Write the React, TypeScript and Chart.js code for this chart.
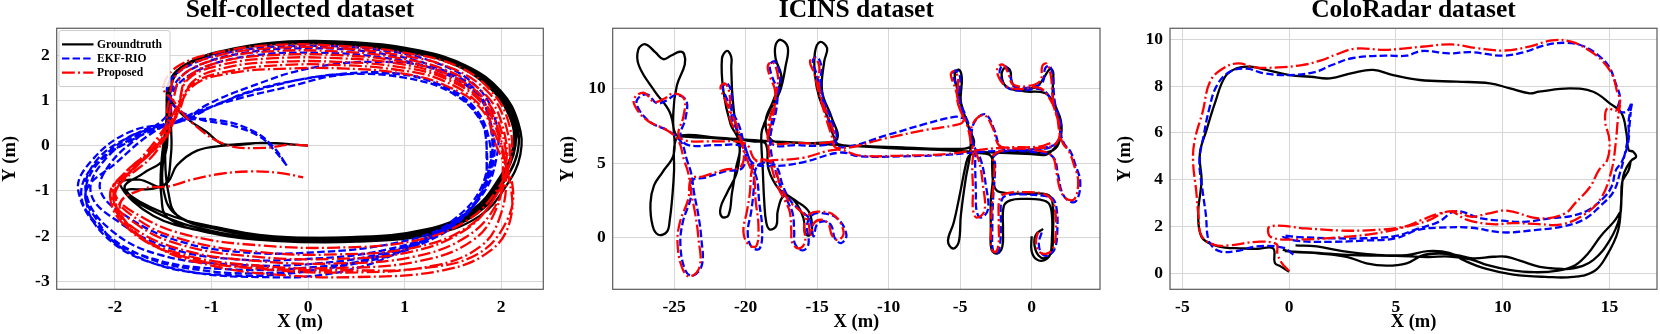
import React, { useEffect, useRef } from "react";
import { Chart, registerables } from "chart.js";
Chart.register(...registerables);

type Pt = [number, number] | null;

const SERIES_NAMES = ["Groundtruth", "EKF-RIO", "Proposed"];
const SERIES_COLORS = ["#000000", "#0000ff", "#ff0000"];
const TITLES = ["Self-collected dataset", "ICINS dataset", "ColoRadar dataset"];
const X_LABEL = "X (m)";
const Y_LABEL = "Y (m)";

const P1_X_TICKS = [-2, -1, 0, 1, 2];
const P1_Y_TICKS = [-3, -2, -1, 0, 1, 2];
const P2_X_TICKS = [-25, -20, -15, -10, -5, 0];
const P2_Y_TICKS = [0, 5, 10];
const P3_X_TICKS = [-5, 0, 5, 10, 15];
const P3_Y_TICKS = [0, 2, 4, 6, 8, 10];

// ---------- Self-collected dataset ----------
const P1_GT: Pt[] = [
  [0, 0], [-0.46, 0.06], [-0.87, 0.03], [-1.05, 0.3], [-1.29, 0.66], [-1.42, 1.0],
  [-1.45, 1.35], [-1.3, 1.75], [-0.9, 2.08], [-0.35, 2.26], [0.35, 2.25], [1.0, 2.12], [1.5, 1.85], [1.88, 1.35], [2.1, 0.7], [2.15, 0.0], [2.0, -0.75], [1.72, -1.45], [1.25, -1.88], [0.45, -2.05], [-0.35, -2.04], [-0.95, -1.84], [-1.35, -1.55], [-1.45, -1.0], [-1.48, -0.25], [-1.46, 0.55],
  [-1.44, 1.4], [-1.25, 1.8], [-0.85, 2.1], [-0.3, 2.28], [0.4, 2.27], [1.05, 2.12], [1.55, 1.82], [1.92, 1.3], [2.12, 0.65], [2.18, -0.05], [2.03, -0.8], [1.75, -1.5], [1.28, -1.92], [0.5, -2.1], [-0.3, -2.08], [-1.0, -1.88], [-1.55, -1.5], [-1.9, -0.95], [-1.7, -0.6], [-1.5, -0.3], [-1.45, 0.5],
  [-1.42, 1.4], [-1.2, 1.85], [-0.8, 2.12], [-0.25, 2.28], [0.45, 2.26], [1.1, 2.1], [1.6, 1.78], [1.95, 1.25], [2.15, 0.55], [2.17, -0.15], [2.0, -0.85], [1.7, -1.52], [1.2, -1.93], [0.4, -2.1], [-0.4, -2.07], [-1.05, -1.9], [-1.6, -1.55], [-1.95, -0.85], [-1.75, -0.75], [-1.5, -0.9], [-1.42, -0.2], [-1.42, 0.6],
  [-1.4, 1.45], [-1.18, 1.88], [-0.75, 2.15], [-0.2, 2.3], [0.5, 2.28], [1.15, 2.1], [1.65, 1.75], [2.0, 1.2], [2.18, 0.5], [2.2, -0.2], [2.05, -0.9], [1.78, -1.55], [1.3, -1.95], [0.5, -2.12], [-0.35, -2.1], [-1.0, -1.93], [-1.45, -1.6], [-1.52, -1.1], [-1.52, -0.4], [-1.47, 0.5],
  [-1.43, 1.38], [-1.22, 1.82], [-0.82, 2.1], [-0.28, 2.25], [0.38, 2.24], [1.02, 2.08], [1.52, 1.8], [1.9, 1.3], [2.1, 0.62], [2.12, -0.08], [1.97, -0.78], [1.68, -1.45], [1.2, -1.86], [0.42, -2.03], [-0.38, -2.02], [-0.98, -1.82], [-1.38, -1.5], [-1.5, -0.95], [-1.5, -0.3], [-1.45, 0.6],
  [-1.45, 1.35], [-1.28, 1.78], [-0.88, 2.08], [-0.32, 2.24], [0.35, 2.23], [0.98, 2.08], [1.48, 1.82], [1.86, 1.32], [2.08, 0.68], [2.13, -0.02], [1.98, -0.72], [1.7, -1.42], [1.22, -1.85], [0.45, -2.02], [-0.35, -2.0], [-0.95, -1.8], [-1.5, -1.48], [-1.88, -1.0], [-1.6, -0.95], [-1.45, -0.8],
  [-1.36, -0.44], [-1.15, -0.11], [-0.87, 0.0], [-0.46, 0.06], [0, 0],
];

const P1_EKF: Pt[] = [
  [-0.22, -0.44], [-0.35, -0.1], [-0.5, 0.2], [-0.8, 0.45], [-1.15, 0.6], [-1.4, 0.9],
  [-1.45, 1.35], [-1.2, 1.8], [-0.7, 2.1], [0.0, 2.2], [0.7, 2.12], [1.3, 1.85], [1.75, 1.3], [1.95, 0.5], [1.95, -0.3], [1.8, -1.1], [1.45, -1.75], [0.9, -2.15], [0.1, -2.35], [-0.7, -2.35], [-1.35, -2.1], [-1.85, -1.6], [-2.15, -1.0], [-2.05, -0.4], [-1.75, 0.2], [-1.45, 0.7],
  [-1.4, 1.3], [-1.15, 1.75], [-0.65, 2.05], [0.0, 2.15], [0.7, 2.05], [1.3, 1.75], [1.75, 1.2], [1.9, 0.4], [1.9, -0.4], [1.75, -1.2], [1.4, -1.85], [0.8, -2.3], [0.0, -2.5], [-0.8, -2.5], [-1.45, -2.25], [-1.95, -1.7], [-2.25, -1.05], [-2.1, -0.3], [-1.7, 0.3], [-1.35, 0.55],
  [-1.0, 0.85], [-0.6, 1.2], [-0.1, 1.45], [0.4, 1.58], [1.0, 1.5], [1.5, 1.15], [1.8, 0.5], [1.85, -0.2], [1.8, -1.0], [1.5, -1.75], [0.9, -2.3], [0.1, -2.6], [-0.8, -2.62], [-1.55, -2.4], [-2.05, -1.85], [-2.3, -1.05], [-2.2, -0.35], [-1.85, 0.2], [-1.45, 0.55],
  [-1.4, 1.2], [-1.1, 1.7], [-0.6, 1.98], [0.05, 2.05], [0.75, 1.95], [1.35, 1.65], [1.78, 1.05], [1.9, 0.3], [1.88, -0.5], [1.72, -1.3], [1.35, -1.95], [0.75, -2.45], [-0.05, -2.7], [-0.9, -2.72], [-1.6, -2.5], [-2.1, -1.95], [-2.38, -1.0], [-2.25, -0.35], [-1.85, 0.3], [-1.3, 0.55],
  [-0.9, 0.95], [-0.4, 1.3], [0.2, 1.55], [0.8, 1.6], [1.3, 1.4], [1.7, 0.9], [1.88, 0.1], [1.85, -0.7], [1.65, -1.5], [1.2, -2.15], [0.5, -2.6], [-0.3, -2.8], [-1.1, -2.75], [-1.75, -2.4], [-2.2, -1.7], [-2.35, -1.0], [-2.15, -0.3], [-1.7, 0.35], [-1.3, 0.55],
  [-1.05, 0.9], [-0.6, 1.3], [0.0, 1.7], [0.7, 1.85], [1.3, 1.7], [1.72, 1.2], [1.9, 0.45], [1.92, -0.35], [1.75, -1.2], [1.35, -1.9], [0.7, -2.45], [-0.1, -2.8], [-0.9, -2.85], [-1.6, -2.6], [-2.1, -2.0], [-2.3, -1.2], [-2.2, -0.45], [-1.8, 0.15], [-1.4, 0.5],
  [-1.15, 0.75], [-0.7, 1.05], [-0.2, 1.3], [0.3, 1.55], [0.9, 1.6], [1.4, 1.3], [1.75, 0.7], [1.85, 0.0], [1.8, -0.9], [1.5, -1.65], [1.0, -2.3], [0.3, -2.8], [-0.5, -2.9], [-1.3, -2.75], [-1.9, -2.3], [-2.2, -1.6], [-2.3, -1.0], [-2.0, -0.4], [-1.6, 0.3], [-1.3, 0.55],
  [-0.9, 0.55], [-0.55, 0.3], [-0.35, -0.05], [-0.22, -0.44],
];

const P1_PROP: Pt[] = [
  [0, 0], [-0.2, 0.02], [-0.45, -0.05], [-0.85, 0.02], [-1.2, 0.5], [-1.4, 1.0], [-1.5, 1.3],
  [-1.35, 1.75], [-0.95, 2.05], [-0.35, 2.22], [0.35, 2.2], [1.0, 2.05], [1.55, 1.75], [1.9, 1.2], [2.08, 0.5], [2.1, -0.3], [1.95, -1.0], [1.65, -1.65], [1.1, -2.1], [0.3, -2.25], [-0.5, -2.2], [-1.2, -2.0], [-1.7, -1.6], [-2.0, -1.05], [-1.8, -0.5], [-1.5, 0.2], [-1.45, 0.9],
  [-1.35, 1.6], [-1.0, 1.95], [-0.4, 2.15], [0.3, 2.15], [0.95, 2.0], [1.5, 1.7], [1.88, 1.15], [2.05, 0.45], [2.08, -0.4], [1.95, -1.1], [1.65, -1.8], [1.1, -2.25], [0.3, -2.4], [-0.5, -2.35], [-1.25, -2.1], [-1.75, -1.65], [-2.02, -1.0], [-1.75, -0.4], [-1.5, 0.3], [-1.4, 1.0],
  [-1.3, 1.55], [-0.95, 1.9], [-0.4, 2.08], [0.3, 2.08], [0.9, 1.95], [1.45, 1.65], [1.85, 1.1], [2.02, 0.4], [2.05, -0.45], [1.92, -1.2], [1.6, -1.9], [1.05, -2.35], [0.25, -2.5], [-0.55, -2.45], [-1.3, -2.2], [-1.8, -1.7], [-2.05, -1.05], [-1.8, -0.45], [-1.55, 0.2], [-1.35, 0.9],
  [-1.25, 1.5], [-0.9, 1.85], [-0.35, 2.0], [0.3, 2.0], [0.9, 1.88], [1.42, 1.6], [1.82, 1.05], [2.0, 0.35], [2.05, -0.5], [1.95, -1.3], [1.65, -2.0], [1.1, -2.45], [0.3, -2.6], [-0.5, -2.55], [-1.3, -2.3], [-1.85, -1.75], [-2.05, -1.1], [-1.85, -0.5], [-1.5, 0.1], [-1.35, 0.8],
  [-1.25, 1.45], [-0.9, 1.78], [-0.35, 1.93], [0.3, 1.93], [0.9, 1.82], [1.4, 1.55], [1.8, 1.0], [1.98, 0.3], [2.02, -0.55], [1.95, -1.4], [1.7, -2.1], [1.15, -2.55], [0.3, -2.7], [-0.5, -2.65], [-1.3, -2.4], [-1.85, -1.85], [-2.05, -1.15], [-1.9, -0.6], [-1.55, 0.0], [-1.35, 0.7],
  [-1.2, 1.4], [-0.85, 1.72], [-0.3, 1.85], [0.3, 1.85], [0.9, 1.75], [1.4, 1.5], [1.8, 0.95], [1.97, 0.25], [2.05, -0.6], [2.0, -1.5], [1.8, -2.2], [1.3, -2.65], [0.4, -2.8], [-0.5, -2.72], [-1.2, -2.5], [-1.8, -1.95], [-2.0, -1.2], [-1.9, -0.7], [-1.6, -0.1], [-1.4, 0.6],
  [-1.2, 1.35], [-0.8, 1.65], [-0.25, 1.78], [0.3, 1.78], [0.9, 1.68], [1.38, 1.45], [1.78, 0.9], [1.95, 0.2], [2.08, -0.7], [2.1, -1.6], [1.9, -2.3], [1.4, -2.75], [0.5, -2.9], [-0.3, -2.85], [-1.0, -2.65], [-1.6, -2.2], [-1.95, -1.5], [-2.0, -1.0], [-1.6, -0.2], [-1.4, 0.5],
  [-1.2, 1.3], [-0.8, 1.6], [-0.2, 1.7], [0.4, 1.7], [0.95, 1.6], [1.4, 1.35], [1.8, 0.8], [1.95, 0.0], [2.12, -0.9], [2.05, -1.7], [1.75, -2.4], [1.2, -2.7], [0.4, -2.75], [-0.5, -2.7], [-1.2, -2.5], [-1.75, -2.0], [-1.95, -1.3], [-1.7, -0.95], [-1.45, -0.9],
  [-1.2, -0.75], [-0.9, -0.62], [-0.6, -0.57], [-0.3, -0.6], [-0.05, -0.7],
];

// ---------- ICINS dataset ----------
const P2_GT: Pt[] = [
  [0.0, 0.1], [0.0, -0.9], [0.35, -1.45], [0.9, -1.5], [1.3, -1.1], [1.42, 0.0], [1.42, 1.5], [1.2, 2.3], [0.6, 2.55], [-0.5, 2.6], [-1.5, 2.5], [-1.95, 2.1], [-2.0, 0.5], [-2.05, -0.6], [-2.4, -1.05], [-2.8, -0.8], [-2.85, 0.5], [-2.85, 2.5], [-2.72, 3.8], [-2.7, 5.0], [-2.95, 5.55],
  [-4.0, 5.65], [-4.4, 5.45], [-4.6, 4.9], [-5.0, 3.0], [-5.45, 1.0], [-5.85, -0.2], [-5.5, -0.72], [-5.1, -0.3], [-4.95, 1.5], [-4.6, 4.0], [-4.3, 5.6],
  [-4.3, 7.0], [-4.75, 8.4], [-5.15, 9.8], [-5.38, 10.9], [-5.1, 11.25], [-4.88, 10.7], [-4.95, 9.0], [-4.45, 7.5], [-4.1, 6.2],
  [-6.0, 5.95], [-9.0, 6.05], [-12.0, 6.15], [-13.5, 6.25],
  [-13.85, 6.8], [-14.2, 7.9], [-14.85, 9.4], [-15.15, 10.9], [-15.15, 12.4], [-14.8, 13.1], [-14.3, 12.7], [-14.5, 11.8], [-14.65, 9.8], [-14.0, 8.1], [-13.6, 6.6],
  [-15.0, 6.35], [-17.0, 6.4], [-18.2, 6.55],
  [-18.6, 7.8], [-18.1, 9.1], [-17.5, 10.7], [-17.9, 12.0], [-17.9, 12.9], [-17.55, 13.25], [-17.05, 12.75], [-17.2, 11.5], [-17.6, 9.8], [-18.3, 8.5], [-18.85, 7.2], [-18.9, 6.4],
  [-18.8, 4.6], [-18.7, 2.5], [-18.55, 1.0], [-18.3, 0.55], [-17.85, 0.8], [-17.75, 1.8], [-17.3, 2.8], [-16.3, 2.35], [-15.55, 1.7], [-15.35, 0.6], [-15.55, 0.15], [-15.85, 0.35], [-15.95, 1.3], [-16.6, 2.5], [-17.7, 3.3], [-18.4, 4.6], [-18.6, 6.3],
  [-19.5, 6.45], [-20.3, 6.6], [-20.6, 7.1], [-20.9, 9.3], [-21.0, 11.4], [-21.0, 12.1], [-21.3, 12.5], [-21.65, 12.0], [-21.55, 9.8], [-21.05, 7.6], [-20.6, 6.8], [-20.4, 6.2],
  [-20.6, 4.4], [-21.3, 3.0], [-21.75, 2.0], [-21.65, 1.4], [-21.2, 1.5], [-20.95, 3.0], [-20.7, 4.5], [-20.5, 6.3],
  [-22.0, 6.65], [-24.0, 6.75], [-24.9, 6.95],
  [-25.05, 8.4], [-24.8, 10.2], [-24.25, 11.6], [-24.3, 12.3], [-24.6, 12.45], [-25.2, 12.2], [-25.75, 11.95], [-26.3, 12.4], [-27.0, 12.95], [-27.5, 12.6], [-27.45, 11.5], [-26.35, 9.8], [-25.3, 8.4], [-25.0, 6.9],
  [-25.05, 5.5], [-25.8, 4.4], [-26.4, 3.5], [-26.65, 2.3], [-26.5, 0.8], [-26.1, 0.2], [-25.5, 0.4], [-25.3, 1.2], [-25.1, 3.0], [-25.0, 4.5], [-24.95, 6.3],
  [-24.5, 6.85], [-22.0, 6.7], [-19.0, 6.5], [-16.0, 6.35], [-13.5, 6.2], [-10.0, 6.0], [-7.0, 5.9], [-5.0, 5.8], [-2.5, 5.7], [0.0, 5.6], [1.0, 5.55], [1.5, 5.9], [2.0, 6.6], [2.05, 7.8], [1.5, 9.3], [1.5, 10.5], [1.5, 11.1], [1.28, 11.3], [0.85, 10.7], [0.35, 10.1], [-0.6, 9.95], [-1.05, 10.0], [-1.4, 10.45], [-1.5, 11.2], [-1.85, 11.4], [-2.1, 10.9], [-1.75, 10.1], [-0.5, 9.8], [0.9, 9.7], [1.4, 9.2], [1.9, 7.9], [1.95, 6.5], [1.5, 5.85], [0.5, 5.7], [-1.5, 5.75], [-2.6, 5.6], [-2.75, 4.5], [-2.6, 3.4], [-2.2, 3.05], [-0.6, 2.95], [1.05, 2.9], [1.45, 2.4], [1.5, 0.5], [1.4, -0.9], [1.0, -1.35], [0.5, -1.2], [0.2, -0.5], [0.3, 0.2], [0.8, 0.6],
];

const P2_EKF: Pt[] = [
  [0.7, 0.35], [0.5, -0.4], [0.75, -1.1], [1.25, -1.15], [1.65, -0.65], [1.8, 0.6], [1.75, 1.9], [1.5, 2.6], [0.9, 2.8], [-0.5, 2.9], [-1.7, 2.85], [-2.1, 2.5], [-2.15, 1.0], [-2.2, -0.4], [-2.4, -1.05], [-2.7, -0.85], [-2.75, 0.5], [-2.7, 2.5], [-2.6, 3.8], [-2.55, 4.9], [-2.6, 5.5],
  [-1.5, 5.85], [0.0, 5.9], [1.3, 6.05], [1.9, 6.6], [2.05, 7.6], [1.7, 8.7], [1.55, 9.7], [1.5, 10.8], [1.25, 11.5], [0.95, 11.35], [0.75, 10.4], [-0.2, 10.05], [-1.2, 10.1], [-1.5, 10.8], [-1.8, 11.45], [-2.15, 11.4], [-2.2, 10.8], [-1.7, 10.05], [-0.7, 9.85], [0.6, 9.95], [1.35, 9.3], [1.85, 8.1], [2.05, 6.9], [2.3, 6.25], [2.7, 5.8], [3.05, 4.9], [3.4, 3.7], [3.1, 2.45], [2.55, 2.5], [2.1, 3.1], [1.85, 4.2], [1.45, 5.45],
  [0.0, 5.75], [-1.5, 5.85], [-2.2, 6.1], [-2.6, 7.2], [-3.2, 8.25], [-3.9, 7.9], [-4.2, 6.9], [-3.95, 5.8], [-3.95, 4.8], [-3.9, 3.2], [-3.85, 1.8], [-3.55, 1.35], [-3.05, 1.9], [-3.2, 3.5], [-3.55, 5.2], [-4.1, 6.3], [-4.4, 7.6], [-4.9, 8.7], [-5.2, 10.0], [-5.5, 10.95], [-5.3, 11.2], [-5.0, 10.75], [-5.05, 9.2], [-4.6, 8.0], [-5.3, 8.1], [-7.5, 7.6], [-10.0, 6.9], [-13.4, 6.05],
  [-13.8, 6.9], [-14.35, 8.4], [-14.75, 9.8], [-15.05, 11.0], [-15.3, 11.85], [-15.0, 12.1], [-14.7, 11.5], [-14.75, 10.5], [-14.55, 9.3], [-14.05, 8.0], [-13.65, 6.6], [-14.5, 6.2], [-16.5, 6.2], [-18.1, 6.25],
  [-18.2, 7.5], [-17.95, 8.7], [-17.65, 10.0], [-17.6, 10.9], [-17.95, 11.8], [-18.3, 11.55], [-18.15, 10.8], [-17.8, 9.9], [-17.85, 8.6], [-18.25, 6.9], [-18.25, 6.0],
  [-18.0, 4.8], [-17.5, 3.3], [-17.0, 2.3], [-16.7, 1.6], [-16.6, 0.4], [-16.55, -0.4], [-16.0, -0.85], [-15.6, -0.4], [-15.7, 0.9], [-15.3, 1.55], [-14.7, 1.65], [-13.6, 1.3], [-12.95, 0.2], [-13.3, -0.35], [-13.75, -0.05], [-14.0, 0.8], [-14.45, 1.1], [-15.0, 0.9], [-15.25, 0.1], [-15.5, 1.2], [-16.1, 1.8], [-16.8, 2.4], [-17.4, 3.5], [-17.8, 4.7], [-18.3, 5.0], [-19.0, 4.95],
  [-19.35, 4.4], [-19.45, 3.0], [-19.6, 1.8], [-19.85, 0.3], [-19.55, -0.65], [-19.0, -0.7], [-18.85, 0.7], [-19.05, 2.4], [-19.2, 3.9], [-19.6, 4.9], [-20.1, 6.3],
  [-20.45, 7.5], [-20.95, 8.5], [-21.35, 9.4], [-21.6, 10.1], [-21.25, 10.3], [-20.95, 9.5], [-20.95, 8.0], [-20.45, 7.0], [-20.05, 6.2], [-20.2, 4.7], [-21.4, 4.45], [-22.9, 4.0], [-23.7, 3.85],
  [-23.85, 2.6], [-24.4, 1.0], [-24.55, -0.6], [-24.2, -2.2], [-23.7, -2.55], [-23.05, -1.8], [-23.1, 0.0], [-23.3, 1.5], [-23.6, 3.0], [-23.8, 4.3], [-24.1, 5.2], [-24.5, 6.4],
  [-25.3, 7.1], [-26.6, 7.7], [-27.4, 8.5], [-27.6, 9.2], [-26.9, 9.6], [-26.2, 9.0], [-25.5, 9.2], [-24.9, 9.55], [-24.15, 9.2], [-24.2, 8.0], [-24.55, 6.8], [-24.0, 6.2], [-22.0, 6.2], [-20.2, 6.1], [-19.5, 5.0], [-18.0, 4.8], [-16.0, 5.05], [-13.4, 5.7], [-12.0, 5.45], [-9.0, 5.45], [-6.0, 5.55], [-3.5, 5.75], [-1.5, 5.85], [0.5, 5.95], [1.6, 6.2],
];

const P2_PROP: Pt[] = [
  [0.45, 0.4], [0.3, -0.3], [0.55, -0.95], [1.1, -1.05], [1.55, -0.6], [1.7, 0.6], [1.65, 1.8], [1.4, 2.55], [0.8, 2.95], [-0.5, 3.05], [-1.6, 3.0], [-2.2, 2.7], [-2.3, 1.0], [-2.3, -0.3], [-2.5, -0.95], [-2.8, -0.75], [-2.85, 0.5], [-2.75, 2.5], [-2.65, 3.8], [-2.6, 4.9], [-2.7, 5.5],
  [-1.5, 5.95], [0.0, 6.0], [1.3, 6.1], [1.85, 6.5], [1.95, 7.5], [1.6, 8.6], [1.45, 9.6], [1.35, 10.8], [1.05, 11.65], [0.75, 11.5], [0.6, 10.5], [-0.3, 10.15], [-1.3, 10.25], [-1.6, 10.9], [-1.95, 11.55], [-2.35, 11.45], [-2.35, 10.85], [-1.8, 10.15], [-0.8, 9.95], [0.5, 10.05], [1.2, 9.4], [1.75, 8.2], [1.95, 7.0], [2.2, 6.3], [2.6, 5.8], [2.95, 4.9], [3.25, 3.8], [3.0, 2.6], [2.45, 2.6], [2.0, 3.2], [1.75, 4.3], [1.4, 5.5],
  [0.0, 5.9], [-1.5, 6.0], [-2.3, 6.2], [-2.7, 7.3], [-3.3, 8.2], [-4.0, 7.8], [-4.3, 6.8], [-4.1, 5.8], [-4.15, 4.8], [-4.1, 3.2], [-4.1, 1.9], [-3.85, 1.35], [-3.3, 1.8], [-3.4, 3.5], [-3.7, 5.2], [-4.2, 6.3], [-4.5, 7.5], [-5.0, 8.6], [-5.3, 9.9], [-5.65, 10.9], [-5.45, 11.15], [-5.15, 10.7], [-5.2, 9.2], [-4.8, 7.8], [-5.3, 7.55], [-7.5, 7.2], [-10.0, 6.7], [-13.6, 6.0],
  [-14.0, 6.9], [-14.5, 8.4], [-14.9, 9.8], [-15.2, 11.0], [-15.5, 11.8], [-15.2, 12.05], [-14.85, 11.5], [-14.9, 10.5], [-14.7, 9.3], [-14.2, 8.0], [-13.8, 6.6], [-14.5, 6.35], [-16.5, 6.35], [-18.3, 6.4],
  [-18.4, 7.5], [-18.1, 8.7], [-17.8, 10.0], [-17.75, 10.9], [-18.1, 11.75], [-18.45, 11.5], [-18.3, 10.8], [-17.95, 9.9], [-18.0, 8.6], [-18.4, 6.9], [-18.4, 6.0],
  [-18.2, 4.8], [-17.7, 3.3], [-17.2, 2.4], [-16.9, 1.7], [-16.8, 0.4], [-16.75, -0.3], [-16.3, -0.72], [-15.85, -0.3], [-15.9, 0.9], [-15.5, 1.6], [-14.9, 1.75], [-13.8, 1.5], [-13.15, 0.4], [-13.5, -0.15], [-13.95, 0.15], [-14.2, 0.9], [-14.6, 1.2], [-15.2, 1.0], [-15.45, 0.2], [-15.7, 1.3], [-16.3, 1.9], [-17.0, 2.5], [-17.6, 3.6], [-18.0, 4.8], [-18.5, 5.2], [-19.2, 5.15],
  [-19.55, 4.6], [-19.7, 3.0], [-19.9, 1.8], [-20.15, 0.4], [-19.8, -0.45], [-19.25, -0.55], [-19.1, 0.8], [-19.3, 2.5], [-19.4, 4.0], [-19.8, 5.0], [-20.3, 6.4],
  [-20.6, 7.5], [-21.1, 8.5], [-21.5, 9.4], [-21.75, 10.1], [-21.4, 10.3], [-21.1, 9.5], [-21.1, 8.0], [-20.6, 7.0], [-20.2, 6.3], [-20.3, 4.8], [-21.5, 4.55], [-23.0, 4.1], [-23.8, 3.95],
  [-24.0, 2.6], [-24.6, 1.0], [-24.75, -0.5], [-24.4, -2.1], [-23.9, -2.6], [-23.2, -1.9], [-23.3, 0.0], [-23.5, 1.5], [-23.8, 3.0], [-24.0, 4.3], [-24.3, 5.2], [-24.7, 6.5],
  [-25.5, 7.2], [-26.8, 7.8], [-27.6, 8.6], [-27.8, 9.3], [-27.1, 9.7], [-26.4, 9.1], [-25.7, 9.3], [-25.05, 9.65], [-24.3, 9.3], [-24.35, 8.1], [-24.7, 6.9], [-24.2, 6.5], [-22.0, 6.45], [-20.0, 6.3], [-19.3, 5.2], [-18.0, 5.2], [-16.0, 5.35], [-13.6, 5.9], [-12.0, 5.5], [-9.0, 5.5], [-6.0, 5.6], [-3.5, 5.9], [-1.5, 6.05], [0.5, 6.1], [1.5, 6.4],
];

// ---------- ColoRadar dataset ----------
const P3_GT: Pt[] = [
  [0.0, 0.07], [-0.4, 0.3], [-0.67, 0.45], [-0.75, 1.07], [-1.5, 1.05], [-2.31, 1.07], [-3.0, 1.1], [-3.5, 1.2], [-4.1, 1.56], [-4.26, 2.56], [-4.15, 3.5], [-4.1, 4.0], [-4.18, 5.13], [-3.87, 6.12], [-3.48, 7.26], [-3.0, 8.4], [-2.46, 8.76], [-1.84, 8.83], [-1.06, 8.69], [0.03, 8.47], [1.0, 8.4], [1.91, 8.33], [3.0, 8.57], [3.93, 8.69], [4.87, 8.47], [6.12, 8.26], [7.84, 8.19], [9.4, 8.12], [10.34, 7.9], [11.27, 7.69], [11.7, 7.76], [13.15, 7.9], [14.24, 7.76], [15.02, 7.26], [15.57, 6.84], [15.8, 5.98], [15.9, 5.27], [16.11, 5.2], [16.25, 4.98], [16.05, 4.84], [15.85, 4.6], [15.64, 4.13], [15.57, 3.27], [15.49, 2.42], [15.02, 1.42], [14.24, 0.57], [13.3, 0.21], [12.6, 0.2], [11.74, 0.28], [10.96, 0.5], [10.18, 0.71], [9.56, 0.71], [8.62, 0.64], [7.84, 0.78], [7.06, 0.85], [6.28, 0.78], [5.5, 0.43], [4.56, 0.33], [3.62, 0.43], [2.69, 0.71], [1.44, 0.85], [0.19, 0.92], [-0.3, 1.0],
  null,
  [0.3, 1.2], [1.3, 1.15], [2.5, 0.95], [4.0, 0.8], [5.5, 0.78], [6.5, 0.95], [7.5, 0.88], [8.2, 0.55], [9.2, 0.2], [10.5, -0.05], [12.0, -0.15], [13.3, -0.15], [14.3, 0.1], [14.9, 0.8], [15.4, 1.8], [15.55, 3.0], [15.6, 3.9], [15.9, 4.4], [16.0, 4.8],
  null,
  [-0.2, 0.95], [1.0, 0.9], [3.0, 0.78], [5.0, 0.75], [6.5, 0.7], [7.5, 0.72], [8.5, 0.6], [9.3, 0.35], [10.3, 0.15], [11.5, 0.05], [12.6, 0.12], [13.4, 0.35], [14.0, 0.85], [14.6, 1.6], [15.2, 2.2], [15.5, 2.6],
];

const P3_EKF: Pt[] = [
  [0.2, 0.8], [-0.3, 1.1], [-1.5, 1.15], [-2.5, 0.95], [-3.2, 0.93], [-3.6, 1.15], [-3.8, 1.5], [-3.9, 2.5], [-4.05, 3.5], [-4.2, 4.8], [-4.0, 5.9], [-3.75, 7.0], [-3.4, 8.0], [-2.8, 8.6], [-2.0, 8.75], [-1.2, 8.55], [0.0, 8.47], [1.2, 8.6], [2.0, 8.9], [3.0, 9.2], [4.5, 9.3], [5.5, 9.3], [6.2, 9.5], [7.5, 9.4], [8.5, 9.45], [10.0, 9.3], [11.0, 9.45], [12.0, 9.75], [13.0, 9.85], [13.8, 9.7], [14.5, 9.3], [15.0, 8.8], [15.3, 8.1], [15.5, 7.5], [15.4, 7.0], [15.8, 6.9], [16.05, 7.3], [15.9, 6.5], [15.9, 5.7], [15.6, 4.8], [15.3, 4.4], [15.1, 3.7], [14.7, 3.2], [14.0, 2.7], [13.2, 2.45], [12.2, 2.35], [11.0, 2.2], [10.0, 2.25], [9.0, 2.35], [7.8, 2.65], [7.0, 2.2], [6.0, 1.9], [5.0, 1.6], [3.5, 1.5], [2.0, 1.5], [0.5, 1.55], [-0.3, 1.6], [0.3, 1.4], [2.0, 1.35], [3.5, 1.4], [5.0, 1.5], [6.0, 1.85], [7.0, 1.95], [8.5, 1.95], [10.0, 1.75], [11.5, 1.85], [12.8, 2.0], [13.8, 2.3], [14.6, 2.9], [15.2, 3.5], [15.5, 4.3], [15.7, 5.0], [15.9, 6.0], [16.0, 6.9],
];

const P3_PROP: Pt[] = [
  [0.0, 0.1], [-0.35, 0.45], [-0.55, 0.85], [-0.6, 1.25], [-1.5, 1.35], [-2.8, 1.2], [-3.5, 1.22], [-4.1, 1.6], [-4.25, 2.5], [-4.35, 3.5], [-4.5, 4.8], [-4.42, 5.7], [-4.05, 6.9], [-3.7, 8.2], [-3.1, 8.75], [-2.4, 8.97], [-1.6, 8.8], [-0.5, 8.8], [0.6, 8.9], [1.5, 9.1], [2.2, 9.35], [3.1, 9.6], [4.5, 9.55], [6.2, 9.68], [7.6, 9.78], [8.8, 9.62], [10.1, 9.52], [11.3, 9.7], [12.3, 9.95], [13.2, 9.9], [14.0, 9.55], [14.7, 9.05], [15.15, 8.45], [15.35, 7.8], [15.5, 7.35], [15.3, 6.95], [14.9, 7.05], [14.8, 6.5], [15.0, 5.7], [14.9, 4.85], [14.5, 4.4], [14.1, 3.7], [13.4, 3.0], [12.9, 2.55], [11.7, 2.35], [10.2, 2.68], [9.3, 2.55], [8.5, 2.42], [7.8, 2.65], [7.0, 2.55], [6.2, 2.28], [5.4, 2.0], [3.9, 1.85], [2.4, 1.83], [0.8, 1.92], [-0.9, 2.0], [-0.85, 1.55], [0.5, 1.45], [2.5, 1.55], [4.0, 1.7], [5.3, 1.95], [6.5, 2.25], [7.5, 2.65], [8.3, 2.3], [9.5, 2.1], [10.5, 2.15], [11.7, 2.1], [12.8, 2.1], [13.8, 2.5], [14.6, 3.2], [15.1, 4.4], [15.3, 5.6], [15.4, 6.6], [15.5, 7.2],
];

const FONT = "'Liberation Serif', 'Times New Roman', Times, serif";

type PanelCfg = {
  left: number;
  width: number;
  yAxisWidth: number;
  padRight: number;
  title: string;
  xMin: number; xMax: number; yMin: number; yMax: number;
  xTicks: number[]; yTicks: number[];
  series: Pt[][];
  legend: boolean;
};

const PANELS: PanelCfg[] = [
  { left: -1, width: 551, yAxisWidth: 57.7, padRight: 6.7, title: TITLES[0], xMin: -2.604, xMax: 2.438, yMin: -3.17, yMax: 2.59, xTicks: P1_X_TICKS, yTicks: P1_Y_TICKS, series: [P1_GT, P1_EKF, P1_PROP], legend: true },
  { left: 557, width: 548, yAxisWidth: 55.7, padRight: 5, title: TITLES[1], xMin: -29.29, xMax: 4.78, yMin: -3.45, yMax: 14.02, xTicks: P2_X_TICKS, yTicks: P2_Y_TICKS, series: [P2_GT, P2_EKF, P2_PROP], legend: false },
  { left: 1114, width: 546, yAxisWidth: 56, padRight: 3, title: TITLES[2], xMin: -5.58, xMax: 17.23, yMin: -0.68, yMax: 10.47, xTicks: P3_X_TICKS, yTicks: P3_Y_TICKS, series: [P3_GT, P3_EKF, P3_PROP], legend: false },
];

const DASHES: number[][] = [[], [7.4, 3.2], [12.8, 3.2, 2, 3.2]];

const toXY = (arr: Pt[]) => arr.map((p) => (p ? { x: p[0], y: p[1] } : { x: null, y: null }));

const framePlugin = {
  id: "frameBox",
  afterDatasetsDraw(chart: any) {
    const { ctx, chartArea: a } = chart;
    ctx.save();
    ctx.strokeStyle = "#5a5a5a";
    ctx.lineWidth = 1.2;
    ctx.strokeRect(a.left, a.top, a.right - a.left, a.bottom - a.top);
    ctx.restore();
  },
};

const legendPlugin = {
  id: "boxLegend",
  afterDraw(chart: any) {
    const opts = chart.options.plugins.boxLegend;
    if (!opts || !opts.show) return;
    const { ctx, chartArea: a } = chart;
    const bx = a.left + 1.8, by = a.top + 1.8, bw = 111, bh = 56;
    ctx.save();
    ctx.fillStyle = "rgba(255,255,255,0.85)";
    ctx.strokeStyle = "#cccccc";
    ctx.lineWidth = 1;
    ctx.beginPath();
    ctx.roundRect(bx + 0.5, by + 0.5, bw, bh, 2);
    ctx.fill();
    ctx.stroke();
    ctx.font = `bold 11.6px ${FONT}`;
    ctx.textBaseline = "middle";
    ctx.fillStyle = "#000";
    for (let i = 0; i < 3; i++) {
      const cy = by + 14.3 + i * 14.1;
      ctx.strokeStyle = SERIES_COLORS[i];
      ctx.lineWidth = 2.2;
      ctx.setLineDash(DASHES[i]);
      ctx.beginPath();
      ctx.moveTo(bx + 3.5, cy);
      ctx.lineTo(bx + 35, cy);
      ctx.stroke();
      ctx.setLineDash([]);
      ctx.fillText(SERIES_NAMES[i], bx + 38.5, cy + 0.5);
    }
    ctx.restore();
  },
};

function Panel({ cfg }: { cfg: PanelCfg }) {
  const ref = useRef<HTMLCanvasElement | null>(null);
  useEffect(() => {
    if (!ref.current) return;
    const tickFont = { family: FONT, size: 17.5, weight: "bold" as const };
    const titleFont = { family: FONT, size: 18.5, weight: "bold" as const };
    const gridCfg = { color: "#d6d6d6", lineWidth: 1, drawTicks: false };
    const order = [2, 1, 0];
    const chart = new Chart(ref.current, {
      type: "scatter",
      data: {
        datasets: cfg.series.map((s, i) => ({
          label: SERIES_NAMES[i],
          data: toXY(s) as any,
          showLine: true,
          borderColor: SERIES_COLORS[i],
          backgroundColor: SERIES_COLORS[i],
          borderWidth: 2.3,
          borderDash: DASHES[i],
          pointRadius: 0,
          pointHoverRadius: 0,
          tension: 0.4,
          fill: false,
          spanGaps: false,
          order: order[i],
        })),
      },
      options: {
        animation: false,
        responsive: false,
        devicePixelRatio: 1,
        events: [],
        layout: { padding: { left: 0, right: cfg.padRight, top: 0, bottom: 0 } },
        plugins: {
          legend: { display: false },
          tooltip: { enabled: false },
          title: {
            display: true,
            text: cfg.title,
            fullSize: false,
            color: "#000",
            font: { family: FONT, size: 25.5, weight: "bold", lineHeight: 0.85 },
            padding: { top: 0, bottom: 6.6 },
          },
          boxLegend: { show: cfg.legend },
        } as any,
        scales: {
          x: {
            type: "linear",
            min: cfg.xMin,
            max: cfg.xMax,
            afterBuildTicks: (s: any) => { s.ticks = cfg.xTicks.map((v) => ({ value: v })); },
            afterFit: (s: any) => { s.height = 44.7; },
            ticks: { font: tickFont, color: "#000", padding: 7.5, maxRotation: 0, autoSkip: false },
            grid: gridCfg,
            border: { display: false },
            title: { display: true, text: X_LABEL, color: "#000", font: titleFont, padding: { top: 0, bottom: 0.5 } },
          },
          y: {
            type: "linear",
            min: cfg.yMin,
            max: cfg.yMax,
            afterBuildTicks: (s: any) => { s.ticks = cfg.yTicks.map((v) => ({ value: v })); },
            afterFit: (s: any) => { s.width = cfg.yAxisWidth; },
            ticks: { font: tickFont, color: "#000", padding: 7, autoSkip: false },
            grid: gridCfg,
            border: { display: false },
            title: { display: true, text: Y_LABEL, color: "#000", font: titleFont, padding: { top: 0, bottom: 0 } },
          },
        },
      } as any,
      plugins: [framePlugin, legendPlugin],
    });
    return () => chart.destroy();
  }, [cfg]);
  return (
    <canvas
      ref={ref}
      width={cfg.width}
      height={334}
      style={{ position: "absolute", left: cfg.left, top: 0, width: cfg.width, height: 334 }}
    />
  );
}

export default function App() {
  return (
    <div style={{ position: "fixed", left: 0, top: 0, width: 1660, height: 334, background: "#fff", overflow: "hidden" }}>
      {PANELS.map((p, i) => (
        <Panel key={i} cfg={p} />
      ))}
    </div>
  );
}
